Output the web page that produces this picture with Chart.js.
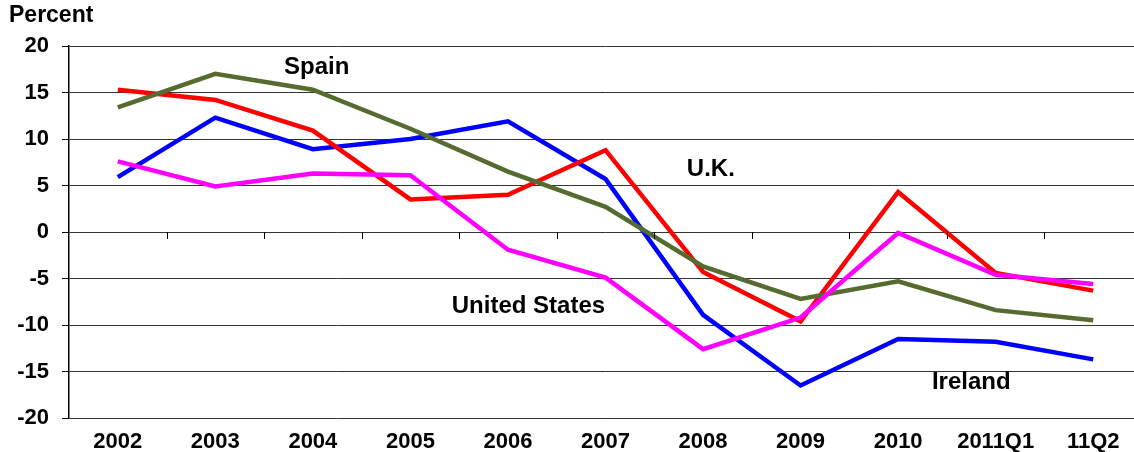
<!DOCTYPE html>
<html>
<head>
<meta charset="utf-8">
<script src="https://cdn.jsdelivr.net/npm/chart.js@4/dist/chart.umd.min.js"></script>
<style>
  html, body { margin: 0; padding: 0; background: #fff; overflow: hidden; }
  #wrap { width: 1146px; height: 452px; }
</style>
</head>
<body>
<div id="wrap"><canvas id="chart" width="1146" height="452"></canvas></div>
<script>
const periods = ["2002", "2003", "2004", "2005", "2006", "2007", "2008", "2009", "2010", "2011Q1", "11Q2"];
const spain = [13.4, 17.0, 15.3, 11.1, 6.5, 2.7, -3.7, -7.2, -5.3, -8.4, -9.5];
const uk = [15.3, 14.2, 10.9, 3.5, 4.0, 8.8, -4.3, -9.6, 4.3, -4.4, -6.3];
const ireland = [5.9, 12.3, 8.9, 10.0, 11.9, 5.7, -8.9, -16.5, -11.5, -11.8, -13.7];
const unitedStates = [7.6, 4.9, 6.3, 6.1, -1.9, -4.9, -12.6, -9.2, -0.1, -4.6, -5.6];
const yTicks = [-20, -15, -10, -5, 0, 5, 10, 15, 20];

// series names placed next to their lines: [text, category index, value]
const seriesLabels = [
  ["Spain", 2.04, 17.7],
  ["U.K.", 6.08, 6.7],
  ["United States", 4.21, -8.0],
  ["Ireland", 8.75, -16.2]
];

const FONT = "'Liberation Sans', Arial, sans-serif";

const extras = {
  id: "extras",
  afterDatasetsDraw(chart) {
    const ctx = chart.ctx;
    const x = chart.scales.x, y = chart.scales.y;
    const y0 = y.getPixelForValue(0);
    ctx.save();
    // small ticks hanging from the zero line at category boundaries
    ctx.strokeStyle = "#000";
    ctx.lineWidth = 1;
    for (let i = 0; i < periods.length; i++) {
      const px = Math.round(x.getPixelForValue(i + 0.5)) + 0.5;
      ctx.beginPath();
      ctx.moveTo(px, y0);
      ctx.lineTo(px, y0 + 7);
      ctx.stroke();
    }
    ctx.fillStyle = "#000";
    ctx.font = "bold 24px " + FONT;
    ctx.textAlign = "center";
    ctx.textBaseline = "middle";
    seriesLabels.forEach(([t, i, v]) => {
      ctx.fillText(t, x.getPixelForValue(i), y.getPixelForValue(v));
    });
    ctx.textAlign = "left";
    ctx.font = "bold 23px " + FONT;
    ctx.fillText("Percent", 9, 16);
    ctx.restore();
  }
};

function line(label, data, color, order) {
  return {
    label, data, order,
    borderColor: color,
    backgroundColor: color,
    borderWidth: 4.5,
    pointRadius: 0,
    tension: 0,
    fill: false
  };
}

new Chart(document.getElementById("chart"), {
  type: "line",
  data: {
    labels: periods,
    datasets: [
      line("United States", unitedStates, "#FF00FF", 1),
      line("Spain", spain, "#556B2F", 2),
      line("U.K.", uk, "#FF0000", 3),
      line("Ireland", ireland, "#0000FF", 4)
    ]
  },
  options: {
    responsive: false,
    animation: false,
    layout: { padding: { top: 46, right: 4, bottom: 0, left: 0 } },
    plugins: { legend: { display: false }, tooltip: { enabled: false } },
    scales: {
      x: {
        offset: true,
        grid: { display: false, drawTicks: false },
        border: { display: false },
        ticks: {
          color: "#000",
          padding: 11,
          maxRotation: 0,
          autoSkip: false,
          font: { family: FONT, size: 22, weight: "bold" }
        },
        afterFit(scale) { scale.height = 34; }
      },
      y: {
        min: -20,
        max: 20,
        afterBuildTicks(scale) { scale.ticks = yTicks.map(v => ({ value: v })); },
        grid: { color: "#333", lineWidth: 1, tickLength: 7, tickColor: "#000" },
        border: { color: "#000", width: 1.5 },
        ticks: {
          color: "#000",
          padding: 13,
          font: { family: FONT, size: 22, weight: "bold" }
        },
        afterFit(scale) { scale.width = 69; }
      }
    }
  },
  plugins: [extras]
});
</script>
</body>
</html>
